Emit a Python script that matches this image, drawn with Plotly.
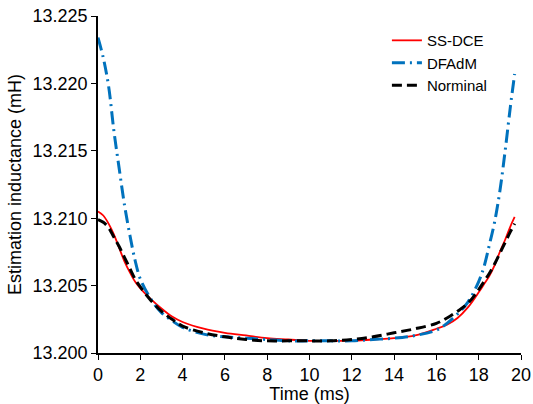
import plotly.graph_objects as go

t = [0, 0.25, 0.5, 0.75, 1.0, 1.25, 1.5, 1.75, 2.0, 2.5, 3.0, 3.5, 4, 5, 6, 7, 8, 9,
     10, 11, 12, 13, 14, 15, 16, 16.5, 17, 17.5, 18, 18.25, 18.5, 18.75, 19, 19.25, 19.5, 19.7]

ss_dce = [13.2105, 13.2102, 13.2096, 13.2088, 13.2078, 13.2068, 13.2060, 13.2053, 13.2048,
          13.2040, 13.2033, 13.2027, 13.2023, 13.2018, 13.2015, 13.2013, 13.2011, 13.2010,
          13.2009, 13.2009, 13.2009, 13.2010, 13.2011, 13.2013, 13.2018, 13.2021, 13.2026,
          13.2034, 13.2045, 13.2051, 13.2057, 13.2065, 13.2075, 13.2084, 13.2094, 13.2101]

dfadm = [13.2234, 13.2219, 13.2198, 13.2165, 13.2137, 13.2110, 13.2088, 13.2069, 13.2055,
         13.2040, 13.2030, 13.2024, 13.2019, 13.2014, 13.2012, 13.2011, 13.2010, 13.2009,
         13.2009, 13.2009, 13.2009, 13.2010, 13.2011, 13.2013, 13.2017, 13.2022, 13.2029,
         13.2038, 13.2053, 13.2064, 13.2080, 13.2097, 13.2120, 13.2150, 13.2183, 13.2207]

norminal = [13.2099, 13.2097, 13.2093, 13.2086, 13.2079, 13.2071, 13.2063, 13.2055, 13.2049,
            13.2039, 13.2031, 13.2025, 13.2020, 13.2015, 13.2012, 13.2010, 13.2009, 13.2009,
            13.2009, 13.2009, 13.2010, 13.2012, 13.2015, 13.2018, 13.2022, 13.2026, 13.2031,
            13.2037, 13.2047, 13.2053, 13.2059, 13.2066, 13.2074, 13.2082, 13.2090, 13.2096]

FONT = "Liberation Sans, Arial, sans-serif"

fig = go.Figure()
fig.add_trace(go.Scatter(x=t, y=ss_dce, mode="lines", name="SS-DCE",
                         line=dict(color="#ff0000", width=1.8, shape="spline")))
fig.add_trace(go.Scatter(x=t, y=dfadm, mode="lines", name="DFAdM",
                         line=dict(color="#0072bd", width=3, dash="13px,5px,2px,5px",
                                   shape="spline")))
fig.add_trace(go.Scatter(x=t, y=norminal, mode="lines", name="Norminal",
                         line=dict(color="#000000", width=3, dash="10px,5px", shape="spline")))

fig.update_layout(
    width=533, height=404,
    margin=dict(l=98, r=12, t=16, b=51),
    paper_bgcolor="white", plot_bgcolor="white",
    font=dict(family=FONT, size=18, color="black"),
    showlegend=True,
    legend=dict(x=0.683, y=0.976, xanchor="left", yanchor="top",
                font=dict(family=FONT, size=15, color="black"),
                bgcolor="rgba(0,0,0,0)", tracegroupgap=0, itemwidth=30),
    xaxis=dict(range=[0, 20], dtick=2, tick0=0, showgrid=False, zeroline=False,
               showline=True, linecolor="black", linewidth=1.5, automargin=False,
               ticks="outside", ticklen=5, tickcolor="black", tickwidth=1,
               title=dict(text="Time (ms)", standoff=2, font=dict(size=18)),
               tickfont=dict(size=18)),
    yaxis=dict(range=[13.2, 13.225], dtick=0.005, tick0=13.2, tickformat=".3f",
               showgrid=False, zeroline=False, automargin=False,
               showline=True, linecolor="black", linewidth=1.5,
               ticks="outside", ticklen=5, tickcolor="black", tickwidth=1,
               title=dict(text="Estimation inductance (mH)", standoff=6, font=dict(size=18)),
               tickfont=dict(size=18)),
)

fig.write_html("out.html")
